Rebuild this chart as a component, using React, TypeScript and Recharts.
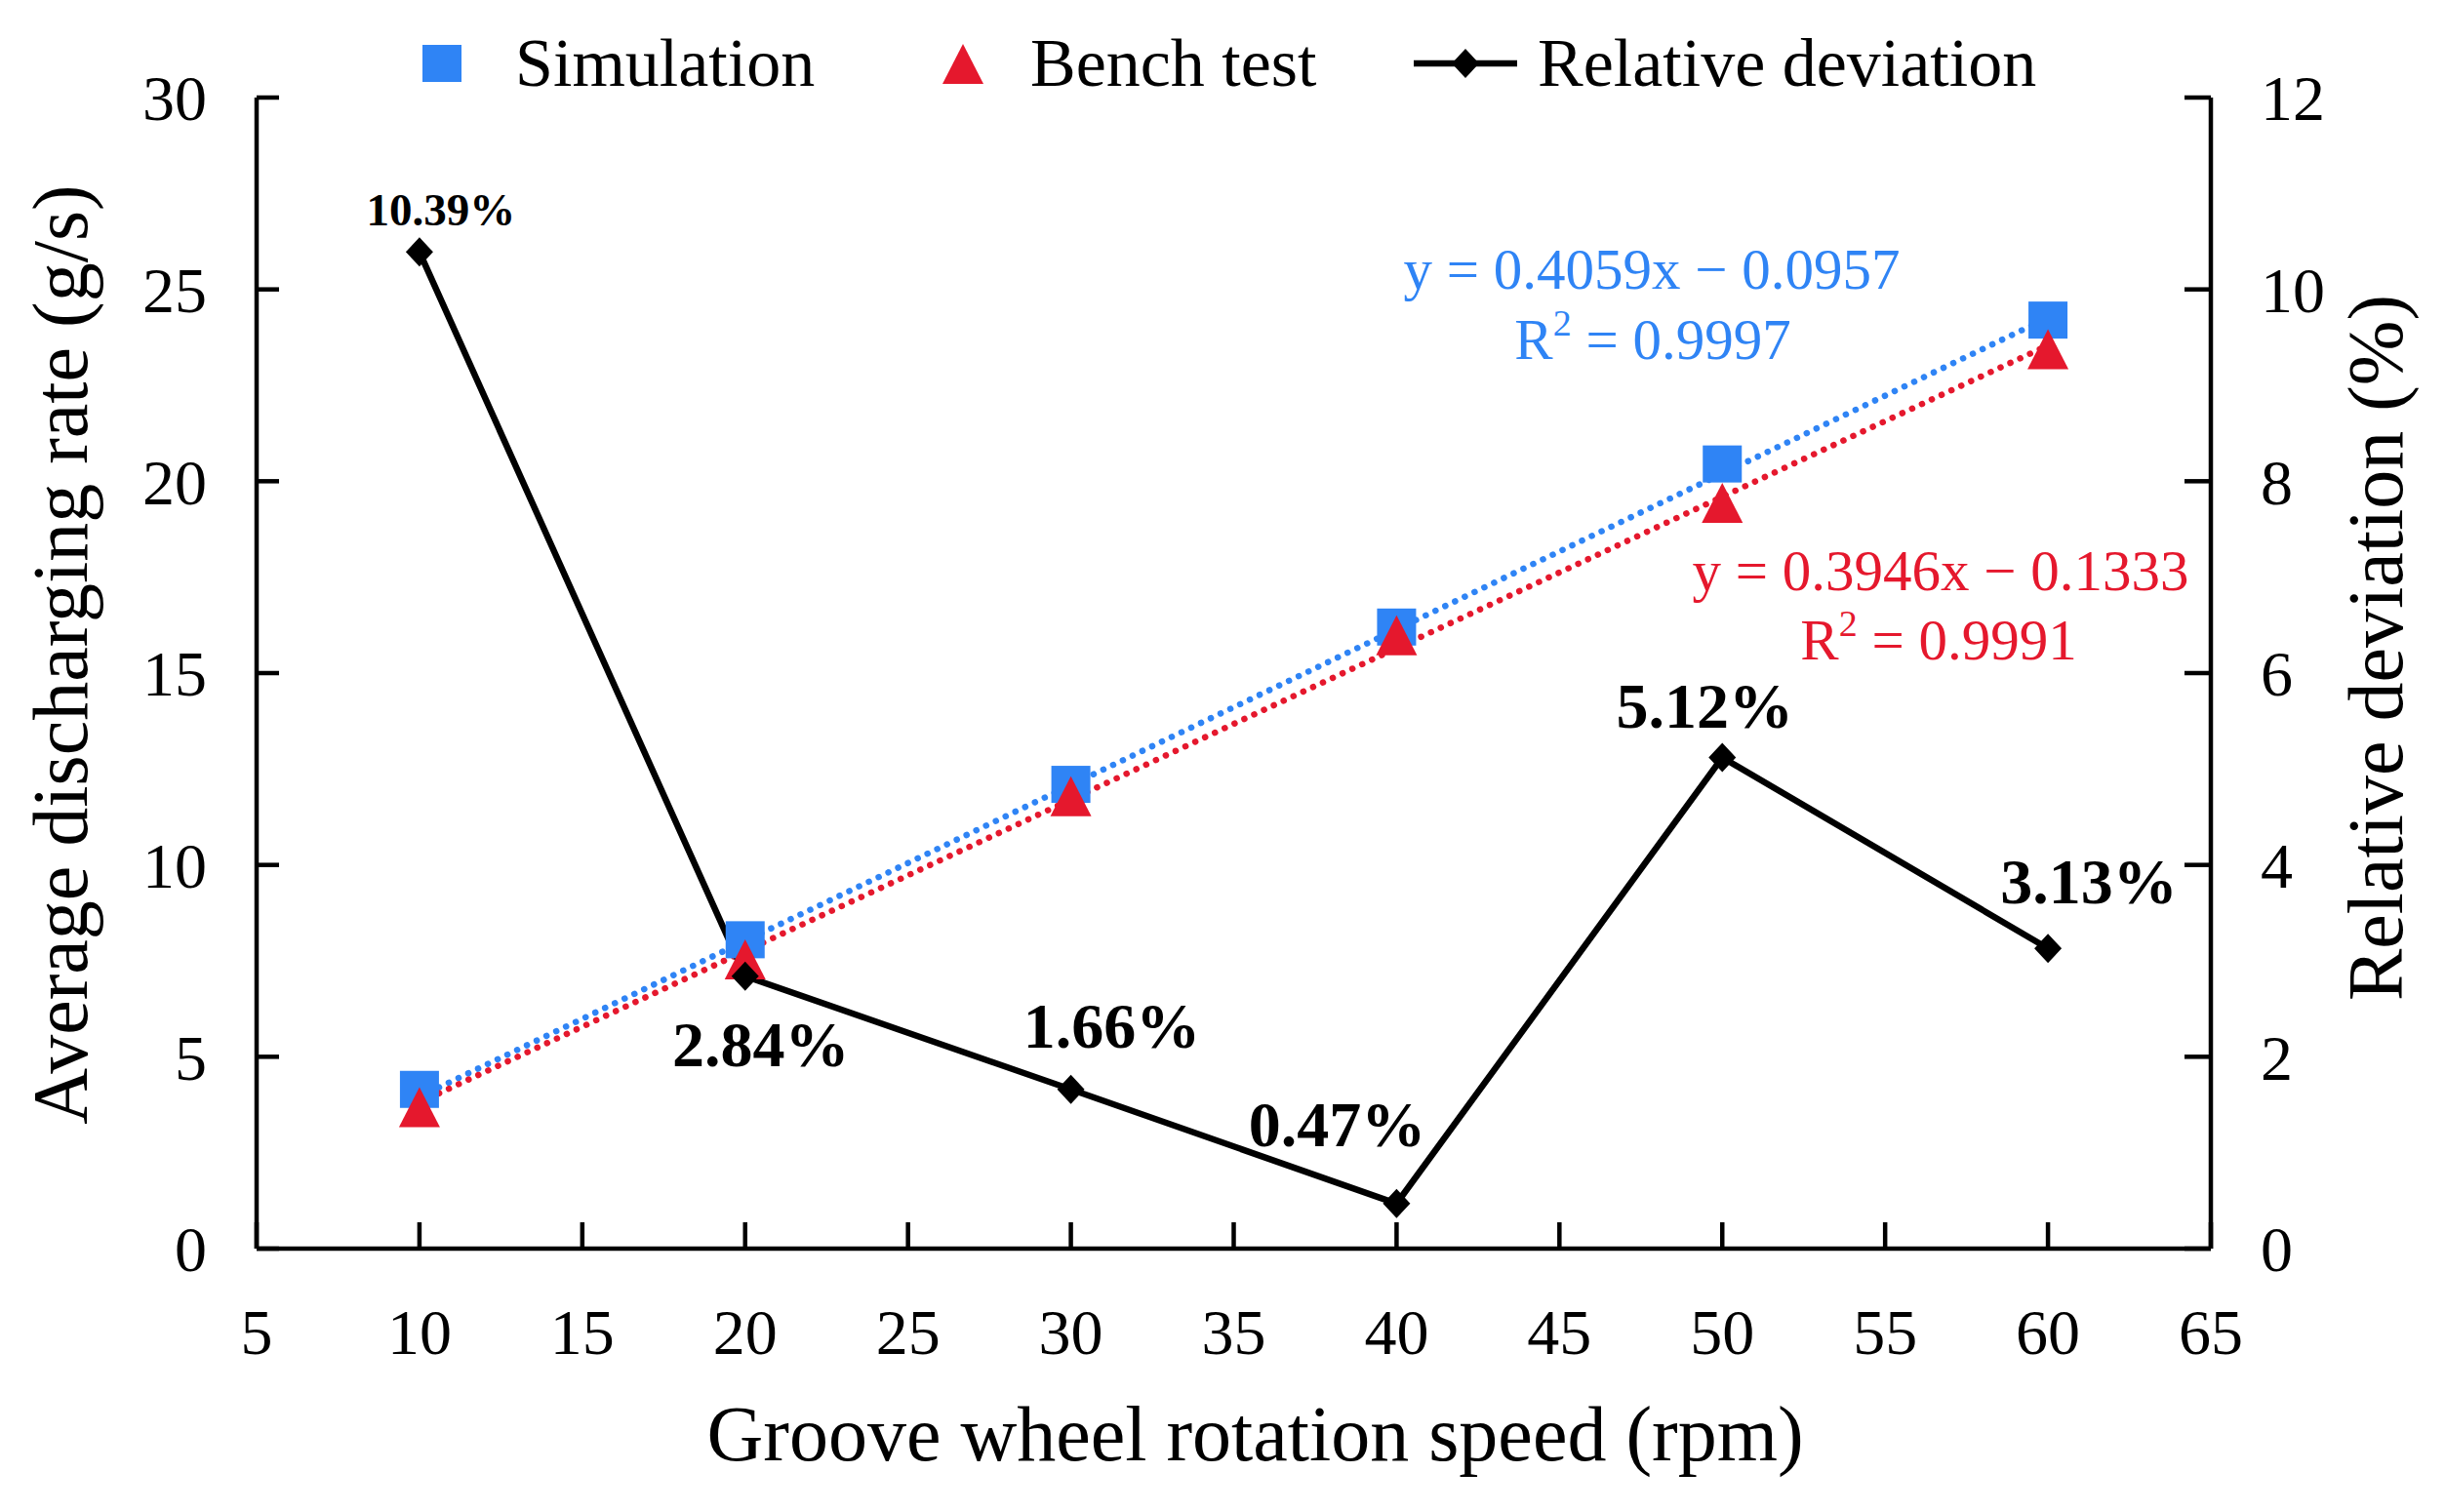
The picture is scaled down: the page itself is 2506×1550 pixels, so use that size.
import React from 'react';
import { ComposedChart, Line, XAxis, YAxis, LabelList } from 'recharts';

// groove wheel speed (rpm) and measured values
const speeds = [10, 20, 30, 40, 50, 60];
const simulation = [4.15, 8.05, 12.1, 16.2, 20.45, 24.2];
const benchTest = [3.65, 7.5, 11.75, 15.95, 19.4, 23.4];
const relativeDeviation = [10.39, 2.84, 1.66, 0.47, 5.12, 3.13];

// end points of the two linear fits
const fitSpeeds = [10, 60];
const simulationFit = [3.96, 24.26];
const benchFit = [3.81, 23.54];

const xTicks = [5, 10, 15, 20, 25, 30, 35, 40, 45, 50, 55, 60, 65];
const leftTicks = [0, 5, 10, 15, 20, 25, 30];
const rightTicks = [0, 2, 4, 6, 8, 10, 12];

const seriesNames = ['Simulation', 'Bench test', 'Relative deviation'];
const simEquation = ['y = 0.4059x \u2212 0.0957', '0.9997'];
const benchEquation = ['y = 0.3946x \u2212 0.1333', '0.9991'];

const BLUE = '#2f84f5';
const RED = '#e5182d';
const FONT = '"Liberation Serif", "Times New Roman", serif';

const W = 2490;
const H = 1534;

const rows = speeds.map((s, i) => ({ speed: s, sim: simulation[i], bench: benchTest[i], dev: relativeDeviation[i] }));
const simFitRows = fitSpeeds.map((s, i) => ({ speed: s, fit: simulationFit[i] }));
const benchFitRows = fitSpeeds.map((s, i) => ({ speed: s, fit: benchFit[i] }));

// label placement around each deviation point (dx, dy to baseline, size)
const devLabelPos = [
  { dx: 22, dy: -27, size: 47 },
  { dx: 16, dy: 92, size: 66 },
  { dx: 42, dy: -43, size: 66 },
  { dx: -61, dy: -59, size: 66 },
  { dx: -18, dy: -31, size: 66 },
  { dx: 42, dy: -46, size: 66 },
];

const Square = (p: any) => {
  if (p.cx == null || p.cy == null) return <g key={p.key} />;
  return <rect key={p.key} x={p.cx - 20} y={p.cy - 19} width={40} height={38} fill={BLUE} />;
};

const Triangle = (p: any) => {
  if (p.cx == null || p.cy == null) return <g key={p.key} />;
  const { cx, cy } = p;
  return <polygon key={p.key} points={`${cx},${cy - 22} ${cx + 21},${cy + 19} ${cx - 21},${cy + 19}`} fill={RED} />;
};

const Diamond = (p: any) => {
  if (p.cx == null || p.cy == null) return <g key={p.key} />;
  const { cx, cy } = p;
  return <polygon key={p.key} points={`${cx},${cy - 15} ${cx + 14},${cy} ${cx},${cy + 15} ${cx - 14},${cy}`} fill="#000" />;
};

const DevLabel = (p: any) => {
  const i = relativeDeviation.indexOf(Number(p.value));
  const pos = devLabelPos[i] || { dx: 0, dy: -30, size: 60 };
  return (
    <text x={p.x + pos.dx} y={p.y + pos.dy} textAnchor="middle" fontFamily={FONT} fontWeight="bold" fontSize={pos.size} fill="#000">
      {`${p.value.toFixed(2)}%`}
    </text>
  );
};

const XTitle = (p: any) => {
  const vb = p.viewBox || { x: 255, y: 1272, width: 2003, height: 262 };
  return (
    <text x={vb.x + vb.width / 2 + 22} y={vb.y + 217} textAnchor="middle" fontFamily={FONT} fontSize={80} fill="#000">
      Groove wheel rotation speed (rpm)
    </text>
  );
};

const LeftTitle = (p: any) => {
  const vb = p.viewBox || { x: 0, y: 92, width: 255, height: 1180 };
  const x = vb.x + 81;
  const y = vb.y + vb.height / 2 - 19;
  return (
    <text x={x} y={y} transform={`rotate(-90, ${x}, ${y})`} textAnchor="middle" fontFamily={FONT} fontSize={80} fill="#000">
      Average discharging rate (g/s)
    </text>
  );
};

const RightTitle = (p: any) => {
  const vb = p.viewBox || { x: 2258, y: 92, width: 232, height: 1180 };
  const x = vb.x + 196;
  const y = vb.y + vb.height / 2 - 26;
  return (
    <text x={x} y={y} transform={`rotate(-90, ${x}, ${y})`} textAnchor="middle" fontFamily={FONT} fontSize={80} fill="#000">
      Relative deviation (%)
    </text>
  );
};

const tickStyle = { fontFamily: FONT, fontSize: 66, fill: '#000' };
const axisStroke = { stroke: '#000', strokeWidth: 4.5 };

export default function App() {
  return (
    <div style={{ position: 'relative', width: W, height: H, background: '#fff' }}>
      <ComposedChart width={W} height={H} margin={{ top: 92, right: 0, bottom: 0, left: 0 }}>
        <XAxis
          dataKey="speed"
          type="number"
          domain={[5, 65]}
          ticks={xTicks}
          height={262}
          tick={tickStyle}
          tickSize={-27}
          tickMargin={88}
          axisLine={axisStroke}
          tickLine={axisStroke}
          allowDuplicatedCategory={false}
          label={<XTitle />}
        />
        <YAxis
          yAxisId="left"
          domain={[0, 30]}
          ticks={leftTicks}
          width={255}
          tick={tickStyle}
          tickSize={-23}
          tickMargin={74}
          axisLine={axisStroke}
          tickLine={axisStroke}
          label={<LeftTitle />}
        />
        <YAxis
          yAxisId="right"
          orientation="right"
          domain={[0, 12]}
          ticks={rightTicks}
          width={232}
          tick={tickStyle}
          tickSize={-27}
          tickMargin={78}
          axisLine={axisStroke}
          tickLine={axisStroke}
          label={<RightTitle />}
        />
        <Line data={rows} yAxisId="left" dataKey="sim" stroke="none" dot={Square} activeDot={false} isAnimationActive={false} />
        <Line data={rows} yAxisId="left" dataKey="bench" stroke="none" dot={Triangle} activeDot={false} isAnimationActive={false} />
        <Line data={simFitRows} yAxisId="left" dataKey="fit" stroke={BLUE} strokeWidth={6.5} strokeDasharray="0.1 11" strokeLinecap="round" dot={false} activeDot={false} isAnimationActive={false} />
        <Line data={benchFitRows} yAxisId="left" dataKey="fit" stroke={RED} strokeWidth={6.5} strokeDasharray="0.1 11" strokeLinecap="round" dot={false} activeDot={false} isAnimationActive={false} />
        <Line data={rows} yAxisId="right" dataKey="dev" stroke="#000" strokeWidth={6.5} dot={Diamond} activeDot={false} isAnimationActive={false}>
          <LabelList dataKey="dev" content={DevLabel} />
        </Line>
      </ComposedChart>

      {/* legend and fit equations */}
      <svg width={W} height={H} style={{ position: 'absolute', left: 0, top: 0, pointerEvents: 'none' }}>
        <g fontFamily={FONT} fontSize={70} fill="#000">
          <rect x={425} y={38} width={40} height={38} fill={BLUE} />
          <text x={520} y={80}>{seriesNames[0]}</text>
          <polygon points="979,37 1000,78 958,78" fill={RED} />
          <text x={1048} y={80}>{seriesNames[1]}</text>
          <line x1={1441} y1={57} x2={1547} y2={57} stroke="#000" strokeWidth={6.5} />
          <polygon points="1494,42 1508,57 1494,72 1480,57" fill="#000" />
          <text x={1568} y={80}>{seriesNames[2]}</text>
        </g>
        <g fontFamily={FONT} fontSize={59} textAnchor="middle">
          <text x={1685} y={288} fill={BLUE}>{simEquation[0]}</text>
          <text x={1686} y={360} fill={BLUE}>
            R<tspan dy={-24} fontSize={38}>2</tspan>
            <tspan dy={24}>{` = ${simEquation[1]}`}</tspan>
          </text>
          <text x={1981} y={597} fill={RED}>{benchEquation[0]}</text>
          <text x={1979} y={668} fill={RED}>
            R<tspan dy={-24} fontSize={38}>2</tspan>
            <tspan dy={24}>{` = ${benchEquation[1]}`}</tspan>
          </text>
        </g>
      </svg>
    </div>
  );
}
